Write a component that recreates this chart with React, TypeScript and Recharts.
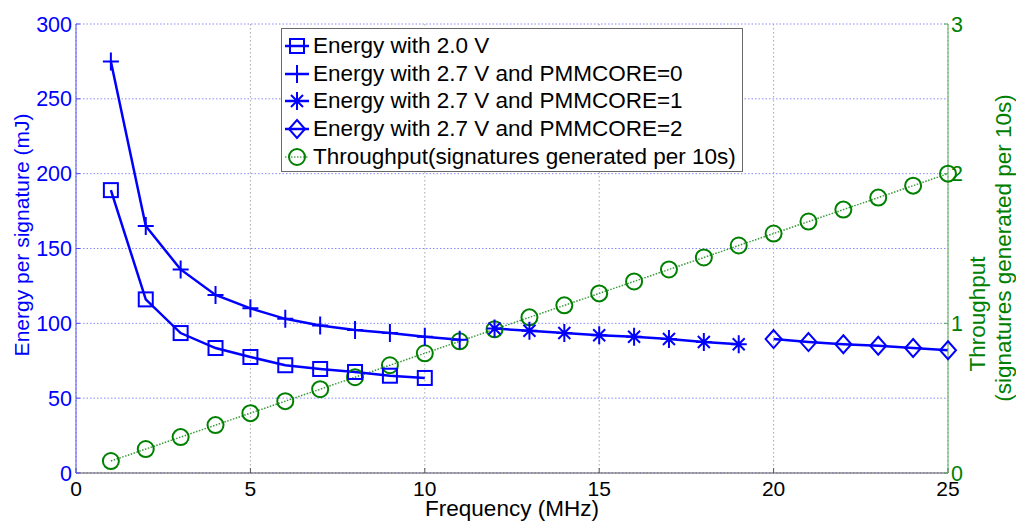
import React from 'react';
import { LineChart, Line, XAxis, YAxis, CartesianGrid, Legend } from 'recharts';

// frequency in MHz
const freq20 = [1, 2, 3, 4, 5, 6, 7, 8, 9, 10];
const energy20 = [189, 116, 93.5, 83.5, 77.5, 72, 69.5, 67.5, 65, 63.5];

const freqPmm0 = [1, 2, 3, 4, 5, 6, 7, 8, 9, 10, 11];
const energyPmm0 = [275, 165, 136, 119, 110, 103, 98.5, 95.5, 93.5, 91, 89];

const freqPmm1 = [12, 13, 14, 15, 16, 17, 18, 19];
const energyPmm1 = [96.5, 95, 93.5, 92, 91, 89.5, 87.5, 86];

const freqPmm2 = [20, 21, 22, 23, 24, 25];
const energyPmm2 = [89.5, 87.5, 86, 85, 83.5, 82];

const freqThroughput = [1, 2, 3, 4, 5, 6, 7, 8, 9, 10, 11, 12, 13, 14, 15, 16, 17, 18, 19, 20, 21, 22, 23, 24, 25];
const throughput = [0.08, 0.16, 0.24, 0.32, 0.4, 0.48, 0.56, 0.64, 0.72, 0.8, 0.88, 0.96, 1.04, 1.12, 1.2, 1.28, 1.36, 1.44, 1.52, 1.6, 1.68, 1.76, 1.84, 1.92, 2.0];

const xTicks = [0, 5, 10, 15, 20, 25];
const energyTicks = [0, 50, 100, 150, 200, 250, 300];
const throughputTicks = [0, 1, 2, 3];

const legendLabels = [
  'Energy with 2.0 V',
  'Energy with 2.7 V and PMMCORE=0',
  'Energy with 2.7 V and PMMCORE=1',
  'Energy with 2.7 V and PMMCORE=2',
  'Throughput(signatures generated per 10s)',
];

const BLUE = '#0000ff';
const GREEN = '#008000';
const FONT = '"Liberation Sans", Arial, sans-serif';

const data = freqThroughput.map((f) => {
  const row: Record<string, number | undefined> = { freq: f };
  const i20 = freq20.indexOf(f);
  const i0 = freqPmm0.indexOf(f);
  const i1 = freqPmm1.indexOf(f);
  const i2 = freqPmm2.indexOf(f);
  row.e20 = i20 >= 0 ? energy20[i20] : undefined;
  row.p0 = i0 >= 0 ? energyPmm0[i0] : undefined;
  row.p1 = i1 >= 0 ? energyPmm1[i1] : undefined;
  row.p2 = i2 >= 0 ? energyPmm2[i2] : undefined;
  row.tp = throughput[freqThroughput.indexOf(f)];
  return row;
});

type Shape = 'square' | 'plus' | 'star' | 'diamond' | 'circle';

const drawMarker = (shape: Shape, cx: number, cy: number, key?: string) => {
  const color = shape === 'circle' ? GREEN : BLUE;
  const common = { fill: 'none', stroke: color, strokeWidth: 2 };
  switch (shape) {
    case 'square':
      return <rect key={key} x={cx - 7} y={cy - 7} width={14} height={14} {...common} />;
    case 'plus':
      return <path key={key} d={`M${cx - 8},${cy}H${cx + 8}M${cx},${cy - 9}V${cy + 9}`} {...common} />;
    case 'star':
      return (
        <path
          key={key}
          d={`M${cx - 8},${cy}H${cx + 8}M${cx},${cy - 9}V${cy + 9}M${cx - 6},${cy - 6}L${cx + 6},${cy + 6}M${cx - 6},${cy + 6}L${cx + 6},${cy - 6}`}
          {...common}
        />
      );
    case 'diamond':
      return <path key={key} d={`M${cx},${cy - 9}L${cx + 8},${cy}L${cx},${cy + 9}L${cx - 8},${cy}Z`} {...common} />;
    default:
      return <circle key={key} cx={cx} cy={cy} r={8} {...common} />;
  }
};

const dotFor = (shape: Shape) => (props: any) => {
  const { cx, cy, index, value } = props;
  const key = `${shape}-${index}`;
  if (value == null || cx == null || cy == null || isNaN(cx) || isNaN(cy)) return <g key={key} />;
  return drawMarker(shape, cx, cy, key);
};

const legendShapes: Shape[] = ['square', 'plus', 'star', 'diamond', 'circle'];

const LegendBox = () => (
  <div
    style={{
      border: '1px solid #6a6a6a',
      background: '#fff',
      boxSizing: 'border-box',
      width: 462,
      height: 144,
      padding: '3px 0 0 0',
      fontFamily: FONT,
      fontSize: 22.5,
      color: '#000',
    }}
  >
    {legendLabels.map((label, i) => {
      const shape = legendShapes[i];
      const isTp = shape === 'circle';
      return (
        <div key={label} style={{ display: 'flex', alignItems: 'center', height: 27.7, whiteSpace: 'nowrap' }}>
          <svg width={30} height={24} style={{ flex: 'none' }}>
            <line
              x1={3}
              x2={27}
              y1={12}
              y2={12}
              stroke={isTp ? '#4caf50' : BLUE}
              strokeWidth={isTp ? 1.5 : 2.5}
              strokeDasharray={isTp ? '1.5 1.5' : undefined}
            />
            {drawMarker(shape, 15, 12)}
          </svg>
          <span style={{ marginLeft: 1 }}>{label}</span>
        </div>
      );
    })}
  </div>
);

const App: React.FC = () => {
  return (
    <div style={{ position: 'absolute', left: 0, top: 0, background: '#fff' }}>
      <LineChart width={1016} height={523} data={data} margin={{ top: 24, right: 0, bottom: 0, left: 0 }}>
        <CartesianGrid yAxisId="left" vertical={false} stroke="#8a8aff" strokeDasharray="1.5 2" />
        <CartesianGrid yAxisId="left" horizontal={false} stroke="#a8a8a8" strokeDasharray="1.5 2.5" />
        <XAxis
          dataKey="freq"
          type="number"
          domain={[0, 25]}
          ticks={xTicks}
          height={50}
          stroke="#555"
          tickSize={-5}
          tickMargin={13}
          tick={{ fill: '#000', fontSize: 21, fontFamily: FONT }}
          label={{
            content: (props: any) => {
              const vb = props.viewBox || { x: 76, y: 473, width: 872, height: 50 };
              return (
                <text x={vb.x + 436} y={vb.y + 43} fill="#000" fontSize={22.5} fontFamily={FONT} textAnchor="middle">
                  Frequency (MHz)
                </text>
              );
            },
          }}
        />
        <XAxis
          xAxisId="top"
          orientation="top"
          dataKey="freq"
          type="number"
          domain={[0, 25]}
          ticks={xTicks}
          height={0}
          stroke="#333"
          tick={false}
          tickLine={false}
        />
        <YAxis
          yAxisId="left"
          domain={[0, 300]}
          ticks={energyTicks}
          width={76}
          stroke="#4d4dff"
          tickSize={-4}
          tickMargin={8}
          tick={{ fill: BLUE, fontSize: 21.5, fontFamily: FONT }}
          label={{
            content: (props: any) => {
              const vb = props.viewBox || { x: 0, y: 24, width: 76, height: 449 };
              const x = vb.x + 21;
              const y = vb.y + 211;
              return (
                <text
                  x={x}
                  y={y}
                  transform={`rotate(-90 ${x} ${y})`}
                  dominantBaseline="central"
                  textAnchor="middle"
                  fill={BLUE}
                  fontSize={21}
                  fontFamily={FONT}
                >
                  Energy per signature (mJ)
                </text>
              );
            },
          }}
        />
        <YAxis
          yAxisId="right"
          orientation="right"
          domain={[0, 3]}
          ticks={throughputTicks}
          width={68}
          stroke="#55aa55"
          tickSize={-4}
          tickMargin={7}
          tick={{ fill: GREEN, fontSize: 21.5, fontFamily: FONT }}
          label={{
            content: (props: any) => {
              const vb = props.viewBox || { x: 948, y: 24, width: 68, height: 449 };
              const x1 = vb.x + 29;
              const y1 = vb.y + 290;
              const x2 = vb.x + 55;
              const y2 = vb.y + 224;
              return (
                <g fill={GREEN} fontSize={22.5} fontFamily={FONT} textAnchor="middle">
                  <text x={x1} y={y1} transform={`rotate(-90 ${x1} ${y1})`} dominantBaseline="central">
                    Throughput
                  </text>
                  <text x={x2} y={y2} transform={`rotate(-90 ${x2} ${y2})`} dominantBaseline="central">
                    (signatures generated per 10s)
                  </text>
                </g>
              );
            },
          }}
        />
        <Legend
          layout="vertical"
          align="center"
          verticalAlign="middle"
          content={() => <LegendBox />}
          wrapperStyle={{ left: 281, top: 28, width: 462, height: 144 }}
        />
        <Line
          yAxisId="right"
          dataKey="tp"
          stroke="#3a9a3a"
          strokeWidth={1.5}
          strokeDasharray="1.5 1.5"
          dot={dotFor('circle')}
          isAnimationActive={false}
        />
        <Line yAxisId="left" dataKey="e20" stroke={BLUE} strokeWidth={2.5} dot={dotFor('square')} isAnimationActive={false} />
        <Line yAxisId="left" dataKey="p0" stroke={BLUE} strokeWidth={2.5} dot={dotFor('plus')} isAnimationActive={false} />
        <Line yAxisId="left" dataKey="p1" stroke={BLUE} strokeWidth={2.5} dot={dotFor('star')} isAnimationActive={false} />
        <Line yAxisId="left" dataKey="p2" stroke={BLUE} strokeWidth={2.5} dot={dotFor('diamond')} isAnimationActive={false} />
      </LineChart>
    </div>
  );
};

export default App;
